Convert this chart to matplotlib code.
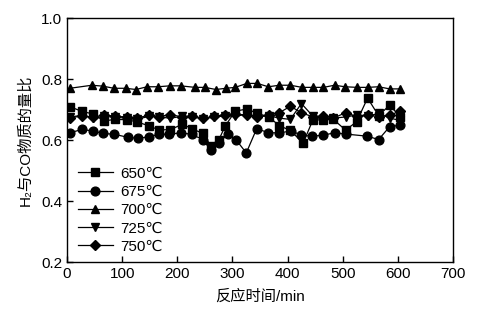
import numpy as np
import matplotlib.pyplot as plt

plt.rcParams['font.family'] = ['Liberation Sans', 'DejaVu Sans', 'Noto Sans CJK SC']

# 各温度下 H2/CO 比随时间变化
t_650 = [5, 27, 47, 67, 87, 108, 127, 148, 166, 187, 209, 226, 246, 261, 275, 287, 305, 326,
         345, 366, 385, 405, 428, 446, 464, 483, 505, 525, 545, 565, 585, 604]
r_650 = [0.71, 0.694, 0.686, 0.663, 0.668, 0.667, 0.66, 0.647, 0.634, 0.634, 0.652, 0.638,
         0.622, 0.58, 0.60, 0.647, 0.695, 0.702, 0.688, 0.676, 0.647, 0.632, 0.59, 0.667,
         0.666, 0.668, 0.633, 0.66, 0.738, 0.68, 0.715, 0.676]

t_675 = [5, 27, 47, 66, 86, 111, 129, 149, 166, 184, 206, 226, 246, 261, 275, 292, 307, 325,
         344, 365, 385, 407, 425, 444, 464, 485, 505, 544, 565, 585, 604]
r_675 = [0.624, 0.635, 0.63, 0.622, 0.619, 0.609, 0.606, 0.611, 0.619, 0.619, 0.624, 0.619,
         0.602, 0.567, 0.591, 0.62, 0.60, 0.558, 0.638, 0.624, 0.624, 0.63, 0.616, 0.613,
         0.616, 0.624, 0.62, 0.613, 0.602, 0.644, 0.649]

t_700 = [5, 45, 65, 85, 106, 125, 145, 165, 186, 206, 232, 250, 270, 288, 305, 326, 345, 365,
         385, 405, 426, 446, 465, 485, 504, 526, 545, 565, 585, 604]
r_700 = [0.770, 0.780, 0.777, 0.770, 0.770, 0.766, 0.775, 0.775, 0.778, 0.778, 0.773, 0.773,
         0.766, 0.770, 0.773, 0.786, 0.786, 0.775, 0.780, 0.780, 0.773, 0.773, 0.773, 0.780,
         0.775, 0.773, 0.773, 0.775, 0.768, 0.768]

t_725 = [5, 27, 47, 67, 87, 108, 127, 148, 166, 187, 209, 226, 246, 266, 287, 305, 326, 345,
         366, 385, 405, 425, 446, 464, 483, 505, 525, 545, 565, 585, 604]
r_725 = [0.675, 0.682, 0.672, 0.678, 0.675, 0.672, 0.668, 0.678, 0.676, 0.672, 0.678, 0.676,
         0.67, 0.675, 0.68, 0.678, 0.685, 0.676, 0.68, 0.672, 0.668, 0.72, 0.678, 0.668,
         0.672, 0.676, 0.682, 0.678, 0.688, 0.672, 0.665]

t_750 = [5, 27, 47, 67, 87, 108, 127, 148, 166, 187, 209, 226, 246, 266, 287, 305, 326, 345,
         366, 385, 405, 425, 446, 464, 483, 505, 525, 545, 565, 585, 604]
r_750 = [0.672, 0.68, 0.675, 0.683, 0.678, 0.676, 0.672, 0.682, 0.677, 0.684, 0.676, 0.68,
         0.672, 0.678, 0.684, 0.686, 0.682, 0.676, 0.684, 0.69, 0.711, 0.69, 0.676, 0.68,
         0.672, 0.69, 0.678, 0.684, 0.676, 0.682, 0.695]

labels = ['650℃', '675℃', '700℃', '725℃', '750℃']
markers = ['s', 'o', '^', 'v', 'D']

fig = plt.figure(figsize=(4.93, 3.24), dpi=100)
ax = fig.add_axes([0.136, 0.191, 0.783, 0.753])

series = [(t_650, r_650), (t_675, r_675), (t_700, r_700), (t_725, r_725), (t_750, r_750)]
for (t, r), lab, m in zip(series, labels, markers):
    ms = 5.3 if m == 'D' else 6.3
    ax.plot(t, r, '-', color='black', lw=0.9, marker=m, markersize=ms, label=lab)

ax.set_xlim(0, 700)
ax.set_ylim(0.2, 1.0)
ax.set_xticks(np.arange(0, 701, 100))
ax.set_yticks([0.2, 0.4, 0.6, 0.8, 1.0])
ax.tick_params(direction='in', length=4, width=1, labelsize=11, top=False, right=False)
for s in ax.spines.values():
    s.set_linewidth(1)

ax.set_xlabel('反应时间/min', fontsize=11, labelpad=6)
ax.set_ylabel('H₂与CO物质的量比', fontsize=11, labelpad=6)

ax.legend(loc='upper left', bbox_to_anchor=(0.0, 0.435), frameon=False, fontsize=11,
          handlelength=2.3, handletextpad=0.5, labelspacing=0.28, borderaxespad=0.3)

fig.savefig('out.png', dpi=100)
